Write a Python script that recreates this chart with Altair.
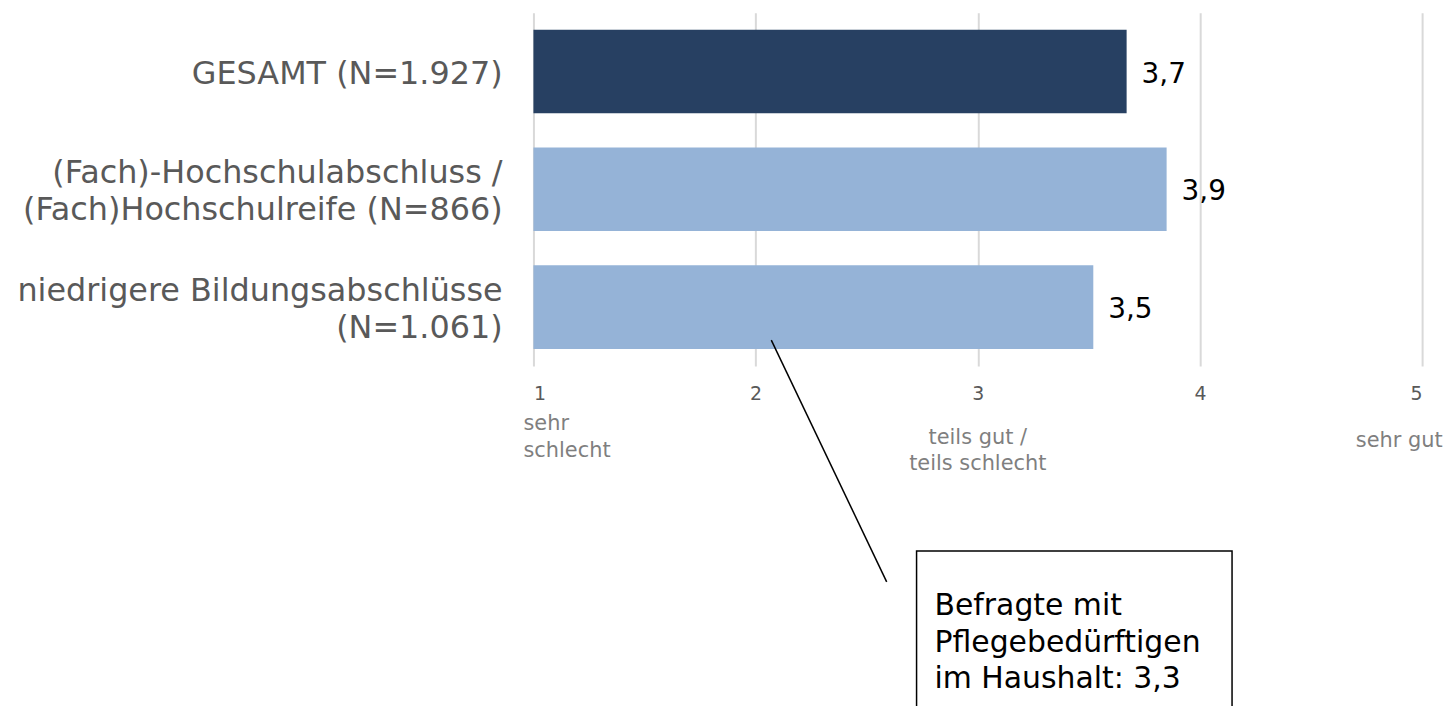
import altair as alt
import pandas as pd

categories = [
    "GESAMT (N=1.927)",
    "(Fach)-Hochschulabschluss /\n(Fach)Hochschulreife (N=866)",
    "niedrigere Bildungsabschlüsse\n(N=1.061)",
]
values = [3.67, 3.85, 3.52]
value_labels = ["3,7", "3,9", "3,5"]
bar_colors = ["#274062", "#95b3d7", "#95b3d7"]

tick_values = [1, 2, 3, 4, 5]
scale_texts = ["sehr\nschlecht", "teils gut /\nteils schlecht", "sehr gut"]
scale_positions = [1, 3, 5]

note_text = "Befragte mit\nPflegebedürftigen\nim Haushalt: 3,3"
note_box_x = [2.7245, 4.1445]
note_line_x = [2.0706, 2.590]

FONT = "DejaVu Sans"

df = pd.DataFrame({"cat": categories, "value": values, "label": value_labels, "color": bar_colors,
                   "lines": [c.count("\n") + 1 for c in categories]})

xscale = alt.Scale(domain=[1, 5], nice=False, zero=False)
yscale = alt.Scale(paddingInner=0.29, paddingOuter=0.145)

base = alt.Chart(df)

bars = base.mark_bar().encode(
    x=alt.X("value:Q", scale=xscale,
            axis=alt.Axis(values=tick_values, format="d", grid=True, gridColor="#d9d9d9",
                          gridWidth=2, domain=False, ticks=False, labelFontSize=19,
                          labelColor="#595959", labelPadding=19, labelFont=FONT, title=None)),
    x2=alt.datum(1),
    y=alt.Y("cat:N", sort=categories, scale=yscale, axis=None),
    color=alt.Color("color:N", scale=None),
)

vals = base.mark_text(align="left", baseline="middle", dx=15, dy=3, fontSize=28, font=FONT, color="black").encode(
    x="value:Q", y=alt.Y("cat:N", sort=categories), text="label:N"
)

cats1 = base.transform_filter("datum.lines == 1").mark_text(
    align="right", baseline="middle", dy=3, fontSize=32, font=FONT, color="#595959").encode(
    x=alt.value(-31), y=alt.Y("cat:N", sort=categories), text="cat:N"
)
cats2 = base.transform_filter("datum.lines == 2").mark_text(
    align="right", baseline="middle", dy=-16, fontSize=32, font=FONT, color="#595959",
    lineBreak="\n", lineHeight=37).encode(
    x=alt.value(-31), y=alt.Y("cat:N", sort=categories), text="cat:N"
)

sub_df = pd.DataFrame({"x": scale_positions, "t": scale_texts})
sub1 = alt.Chart(sub_df.iloc[[0]]).mark_text(align="left", baseline="middle", dx=-10, fontSize=21, font=FONT,
                                             color="#7f7f7f", lineBreak="\n", lineHeight=27).encode(
    x="x:Q", y=alt.value(413), text="t:N")
sub2 = alt.Chart(sub_df.iloc[[1]]).mark_text(align="center", baseline="middle", fontSize=21, font=FONT,
                                             color="#7f7f7f", lineBreak="\n", lineHeight=27).encode(
    x="x:Q", y=alt.value(427), text="t:N")
sub3 = alt.Chart(sub_df.iloc[[2]]).mark_text(align="center", baseline="middle", dx=-23, fontSize=21, font=FONT,
                                             color="#7f7f7f").encode(
    x="x:Q", y=alt.value(430), text="t:N")

box_df = pd.DataFrame({"x": [note_box_x[0]], "x2": [note_box_x[1]]})
box = alt.Chart(box_df).mark_rect(fill="white", stroke="black", strokeWidth=1.5).encode(
    x="x:Q", x2="x2:Q", y=alt.value(541), y2=alt.value(760))

line_df = pd.DataFrame({"x": [note_line_x[0]], "x2": [note_line_x[1]]})
conn = alt.Chart(line_df).mark_rule(color="black", strokeWidth=1.5).encode(
    x="x:Q", x2="x2:Q", y=alt.value(329), y2=alt.value(572))

note_df = pd.DataFrame({"x": [note_box_x[0]], "t": [note_text]})
note = alt.Chart(note_df).mark_text(align="left", baseline="middle", dx=18, fontSize=30, font=FONT,
                                    color="black", lineBreak="\n", lineHeight=37).encode(
    x="x:Q", y=alt.value(596), text="t:N")

chart = alt.layer(bars, vals, cats1, cats2, sub1, sub2, sub3, conn, box, note).properties(
    width=893, height=355,
    autosize=alt.AutoSizeParams(type="none"),
    padding={"left": 528, "top": 3, "right": 23, "bottom": 340},
).configure_view(stroke=None)

chart.save("out.html", embed_options={"renderer": "svg", "actions": False})
